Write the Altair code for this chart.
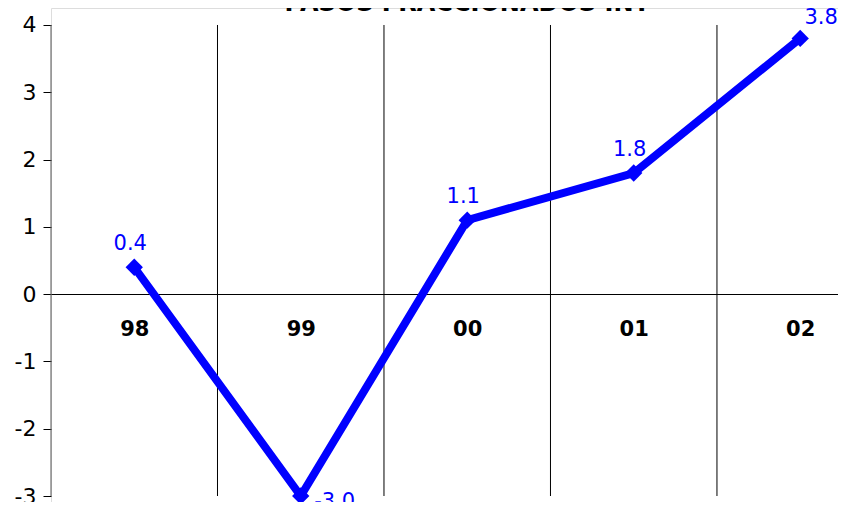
import altair as alt
import pandas as pd

years = ["98", "99", "00", "01", "02"]
values = [0.4, -3.0, 1.1, 1.8, 3.8]
y_ticks = [-3, -2, -1, 0, 1, 2, 3, 4]
boundaries = [0.5, 1.5, 2.5, 3.5]
title_text = "PASOS FRACCIONADOS INT"

df = pd.DataFrame({"i": list(range(len(years))), "year": years, "v": values,
                   "lab": [f"{v:.1f}" for v in values]})
gdf = pd.DataFrame({"b": boundaries, "top": [max(y_ticks)] * len(boundaries),
                    "bot": [min(y_ticks)] * len(boundaries)})

FONT = "DejaVu Sans"
PADL = 43
W, H = 787, 494
xdom = [-0.5, 4.227]
ydom = [-3.089, 4.2526]

xs = alt.Scale(domain=xdom, nice=False, zero=False)
ys = alt.Scale(domain=ydom, nice=False, zero=False)

label_expr = "[" + ",".join(f"'{y}'" for y in years) + "][datum.value]"

base = alt.Chart(df)

axis_layer = base.mark_point(opacity=0).encode(
    x=alt.X("i:Q", scale=xs, axis=alt.Axis(
        values=list(range(len(years))), labelExpr=label_expr, title=None,
        grid=False, ticks=False, domain=True, domainColor="#000000", domainWidth=1,
        offset=286 - H, labelFont=FONT, labelFontWeight="bold", labelFontSize=21,
        labelColor="#000000", labelPadding=24, labelAngle=0)),
    y=alt.Y("v:Q", scale=ys, axis=alt.Axis(
        values=y_ticks, labelExpr="toString(datum.value)", title=None, grid=False,
        domain=False, ticks=True, tickSize=8, tickColor="#000000", labelFont=FONT,
        labelFontSize=22, labelColor="#000000", labelPadding=7)),
)

grid = alt.Chart(gdf).mark_rule(color="#000000", strokeWidth=1).encode(
    x=alt.X("b:Q", scale=xs), y=alt.Y("top:Q", scale=ys), y2="bot:Q")

yaxis_line = alt.Chart(gdf.head(1)).mark_rule(color="#555555", strokeWidth=1).encode(
    x=alt.datum(xdom[0]), y=alt.Y("top:Q", scale=ys), y2="bot:Q")

line = base.mark_line(color="#0000FF", strokeWidth=8).encode(
    x=alt.X("i:Q", scale=xs), y=alt.Y("v:Q", scale=ys))

pts = base.mark_point(shape="diamond", filled=True, color="#0000FF", size=300,
                      opacity=1).encode(
    x=alt.X("i:Q", scale=xs), y=alt.Y("v:Q", scale=ys))

lab_above = base.transform_filter("datum.i == 0 || datum.i == 2 || datum.i == 3").mark_text(
    font=FONT, fontSize=21, color="#0000FF", dy=-23, dx=-4).encode(
    x=alt.X("i:Q", scale=xs), y=alt.Y("v:Q", scale=ys), text="lab:N")

lab_low = base.transform_filter("datum.i == 1").mark_text(
    font=FONT, fontSize=21, color="#0000FF", dy=6, dx=34).encode(
    x=alt.X("i:Q", scale=xs), y=alt.Y("v:Q", scale=ys), text="lab:N")

lab_top = base.transform_filter("datum.i == 4").mark_text(
    font=FONT, fontSize=21, color="#0000FF", dy=-20, dx=21).encode(
    x=alt.X("i:Q", scale=xs), y=alt.Y("v:Q", scale=ys), text="lab:N")

title = alt.Chart(pd.DataFrame({"t": [title_text]})).mark_text(
    font=FONT, fontSize=24, fontWeight="bold", color="#000000",
    baseline="alphabetic").encode(
    x=alt.datum(2.0), y=alt.value(3), text="t:N")

chart = alt.layer(grid, yaxis_line, axis_layer, line, pts, lab_above, lab_low, lab_top,
                  title).properties(
    width=W, height=H,
    autosize=alt.AutoSizeParams(type="none"),
    padding={"left": PADL, "top": 0, "right": 0, "bottom": 0},
).configure_view(stroke=None).configure(background="#FFFFFF")

chart.save("out.html", embed_options={"renderer": "svg", "actions": False})
